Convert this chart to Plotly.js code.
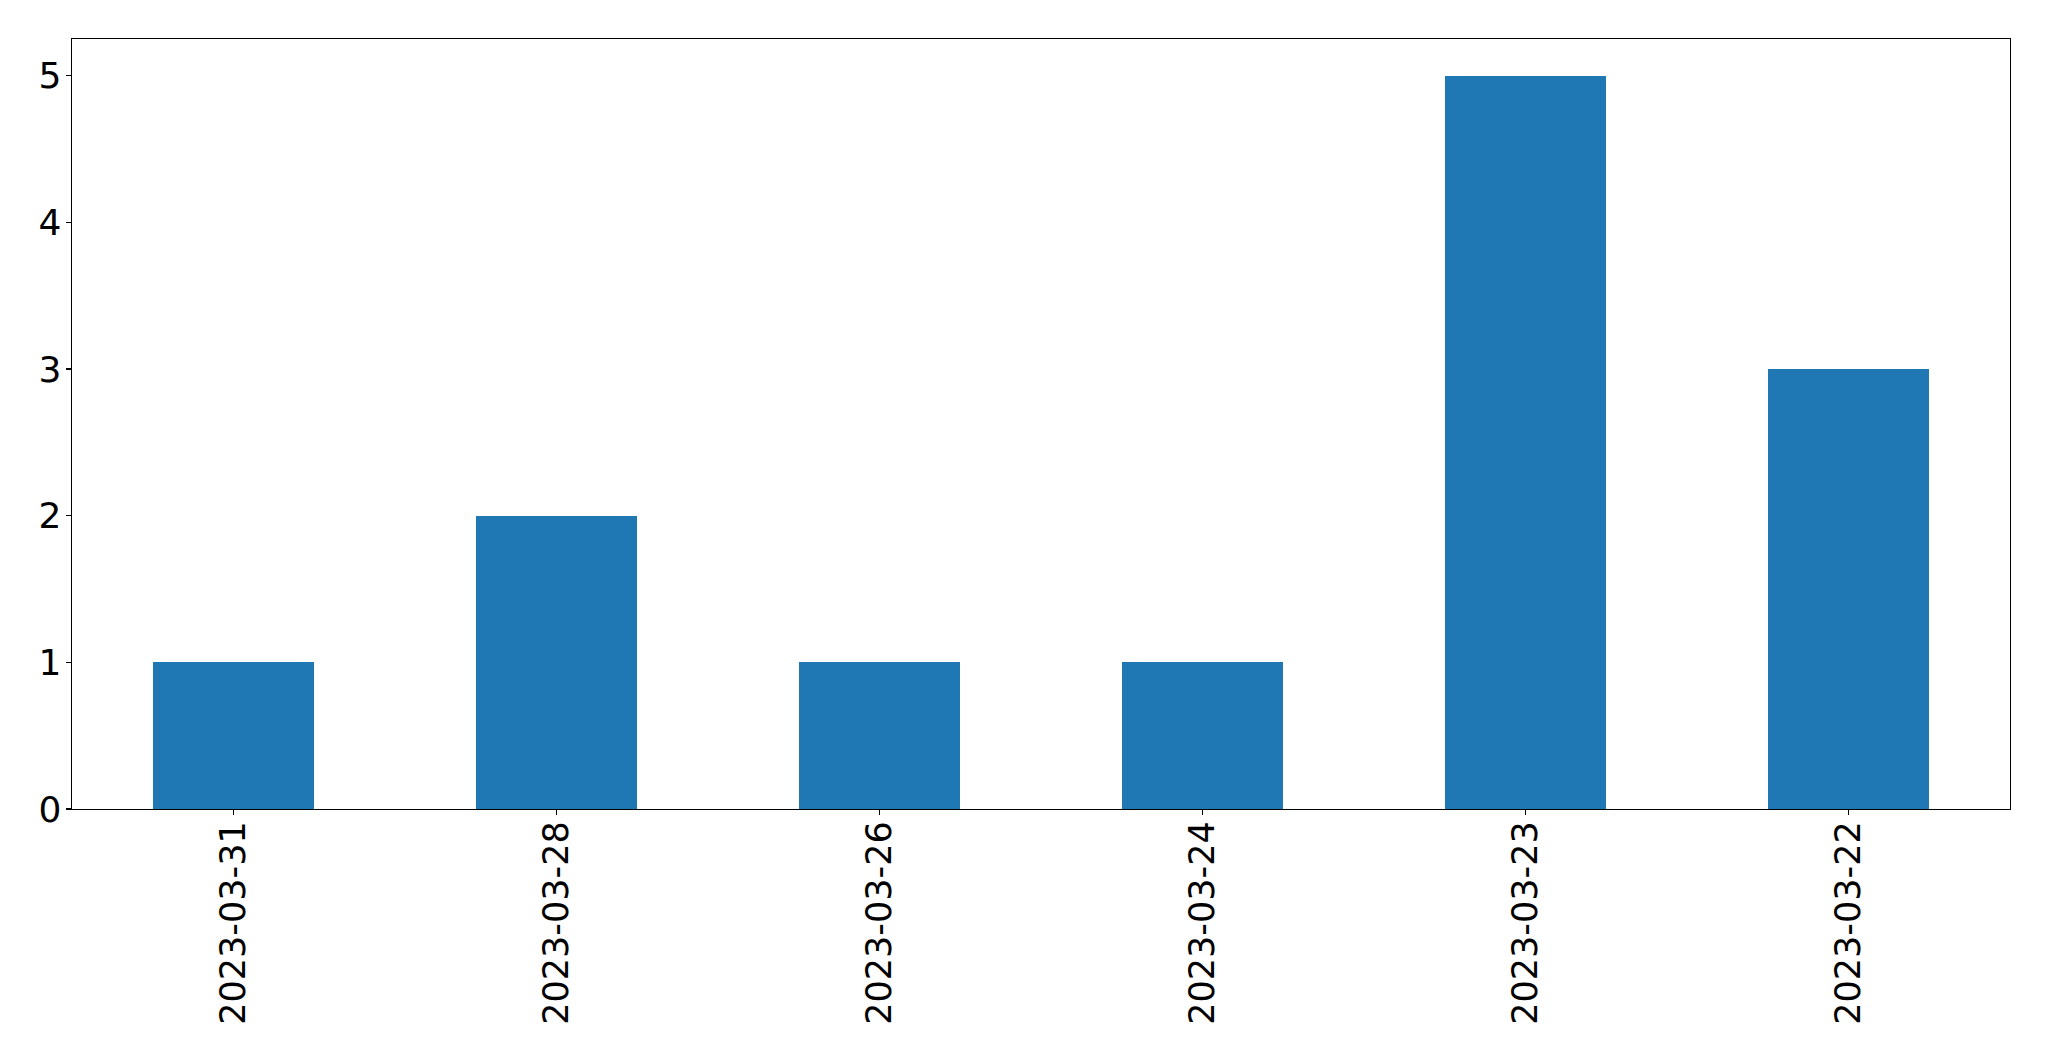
<!DOCTYPE html>
<html>
<head>
<meta charset="utf-8">
<script src="https://cdn.plot.ly/plotly-3.0.1.min.js"></script>
<style>
html,body{margin:0;padding:0;background:#fff;}
#chart{width:2049px;height:1061px;}
</style>
</head>
<body>
<div id="chart"></div>
<script>
const dates = ["2023-03-31","2023-03-28","2023-03-26","2023-03-24","2023-03-23","2023-03-22"];
const counts = [1, 2, 1, 1, 5, 3];
const yTicks = [0, 1, 2, 3, 4, 5];

const trace = {
  type: 'bar',
  x: dates,
  y: counts,
  width: 0.5,
  marker: {color: '#1f77b4', line: {width: 0}},
  hoverinfo: 'x+y'
};

const layout = {
  width: 2049,
  height: 1061,
  margin: {l: 72, r: 39, t: 39, b: 252, pad: 0},
  paper_bgcolor: '#ffffff',
  plot_bgcolor: '#ffffff',
  showlegend: false,
  font: {family: 'DejaVu Sans', size: 35, color: '#000000'},
  bargap: 0,
  xaxis: {
    type: 'category',
    range: [-0.5, 5.5],
    tickangle: -90,
    ticks: 'outside',
    ticklen: 5,
    tickwidth: 1.2,
    tickcolor: '#000',
    ticklabelstandoff: -8,
    showline: true,
    linecolor: '#000',
    linewidth: 1.3,
    mirror: true,
    showgrid: false,
    zeroline: false,
    tickfont: {family: 'DejaVu Sans', size: 35, color: '#000'}
  },
  yaxis: {
    range: [0, 5.25],
    tickvals: yTicks,
    ticktext: yTicks.map(String),
    ticks: 'outside',
    ticklen: 5,
    tickwidth: 1.2,
    tickcolor: '#000',
    ticklabelstandoff: -3,
    showline: true,
    linecolor: '#000',
    linewidth: 1.3,
    mirror: true,
    showgrid: false,
    zeroline: false,
    tickfont: {family: 'DejaVu Sans', size: 36, color: '#000'}
  }
};

Plotly.newPlot('chart', [trace], layout, {displayModeBar: false, staticPlot: true});
</script>
</body>
</html>
